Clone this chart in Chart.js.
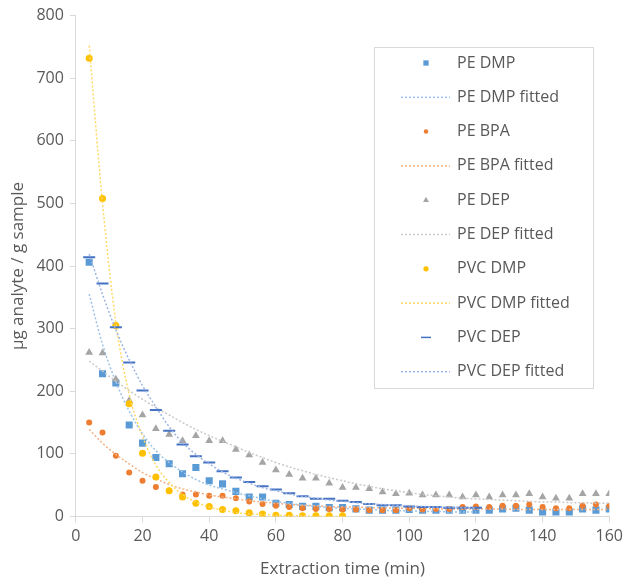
<!DOCTYPE html>
<html>
<head>
<meta charset="utf-8">
<script src="https://cdn.jsdelivr.net/npm/chart.js@4/dist/chart.umd.min.js"></script>
<style>
  html, body { margin: 0; padding: 0; background: #fff; }
  canvas { display: block; }
</style>
</head>
<body>
<canvas id="chart" width="627" height="584"></canvas>
<script>
// sampling times (min)
const times = [4, 8, 12, 16, 20, 24, 28, 32, 36, 40, 44, 48, 52, 56, 60, 64, 68, 72, 76, 80,
  84, 88, 92, 96, 100, 104, 108, 112, 116, 120, 124, 128, 132, 136, 140, 144, 148, 152, 156, 160];

// measured values (µg analyte / g sample)
const peDmp = [406, 228, 213, 146, 117, 94, 84, 68, 78, 57, 52, 40, 31, 31, 21, 19, 16, 16, 14, 14,
  12, 10, 10, 10, 11, 10, 10, 10, 10, 10, 10, 12, 13, 10, 7, 7, 7, 12, 10, 12];
const peBpa = [150, 134, 97, 70, 57, 47, 41, 35, 35, 33, 33, 29, 24, 20, 17, 15, 13, 12, 12, 11,
  11, 10, 10, 10, 13, 11, 12, 12, 15, 16, 15, 17, 17, 19, 15, 13, 13, 17, 19, 17];
const peDep = [262, 261, 219, 185, 162, 140, 131, 121, 129, 121, 121, 107, 98, 86, 74, 67, 61, 61, 53, 46,
  46, 44, 39, 36, 37, 34, 34, 34, 31, 34, 31, 34, 34, 36, 31, 29, 29, 36, 36, 36];
const pvcDmp = [732, 508, 305, 180, 101, 63, 41, 31, 21, 16, 11, 9, 6, 4, 2, 2, 1, 1, 1, 1];
const pvcDep = [414, 372, 302, 246, 201, 170, 137, 115, 96, 86, 72, 62, 55, 48, 43, 37, 32, 28, 28, 25,
  23, 20, 18, 18, 16, 15, 15, 14, 14, 14];

// fitted curves at the same times
const peDmpFit = [355, 275, 215, 168, 132, 105, 86, 71, 59, 50, 44, 38, 33, 28, 24, 21, 18, 16, 14, 13,
  12, 11, 10, 9, 9, 8, 8, 7, 7, 7];
const peBpaFit = [139, 117, 99, 84, 70, 60, 51, 44, 39, 34, 31, 28, 25, 23, 21, 19, 18, 17, 16, 15,
  15, 14, 14, 13, 13, 13, 12, 12, 12, 12, 12, 12, 11, 11, 11, 11, 11, 11, 11, 11];
const peDepFit = [248, 232, 216, 201, 187, 174, 162, 150, 139, 129, 120, 111, 102, 94, 86, 79, 73, 67, 62, 57,
  52, 48, 44, 41, 38, 35, 33, 31, 29, 28, 27, 26, 25, 24, 23, 23, 22, 22, 21, 21];
const pvcDmpFit = [752, 500, 310, 195, 128, 82, 54, 35, 23, 15, 10, 6, 4, 3, 2, 1, 1, 0, 0, 0];
const pvcDepFit = [419, 355, 298, 250, 209, 175, 143, 118, 99, 84, 71, 61, 53, 46, 41, 36, 32, 29, 26, 24,
  22, 20, 19, 18, 17, 16, 15, 15, 14, 14];

const TEXT = "#595959";
const AXIS = "#D9D9D9";
Chart.defaults.font.family = "'Open Sans', sans-serif";

const pts = (vals) => vals.map((v, i) => ({ x: times[i], y: v }));

function markers(label, vals, color, style, radius, extra = {}) {
  return Object.assign({
    label,
    data: pts(vals),
    showLine: false,
    pointStyle: style,
    pointRadius: radius,
    pointBackgroundColor: color,
    pointBorderColor: color,
    pointBorderWidth: 0,
    pointHoverRadius: radius,
  }, extra);
}

function fitted(label, vals, color) {
  return {
    label,
    data: pts(vals),
    showLine: true,
    borderColor: color,
    borderWidth: 1.5,
    borderDash: [2, 2],
    pointRadius: 0,
    pointHoverRadius: 0,
    cubicInterpolationMode: "monotone",
    fill: false,
  };
}

const datasets = [
  markers("PE DMP", peDmp, "#5B9BD5", "rect", 5),
  fitted("PE DMP fitted", peDmpFit, "#9DC3E6"),
  markers("PE BPA", peBpa, "#ED7D31", "circle", 3),
  fitted("PE BPA fitted", peBpaFit, "#F4B183"),
  markers("PE DEP", peDep, "#A5A5A5", "triangle", 4.5),
  fitted("PE DEP fitted", peDepFit, "#C9C9C9"),
  markers("PVC DMP", pvcDmp, "#FFC000", "circle", 3.5),
  fitted("PVC DMP fitted", pvcDmpFit, "#FFD966"),
  markers("PVC DEP", pvcDep, "#4472C4", "line", 6, { pointBorderWidth: 2 }),
  fitted("PVC DEP fitted", pvcDepFit, "#9DB5E3"),
];
// later series painted on top, like the spreadsheet
datasets.forEach((d, i) => { d.order = datasets.length - i; });

// boxed legend inside the plot area
const legendBox = {
  id: "legendBox",
  afterDraw(chart) {
    const ctx = chart.ctx;
    const left = 374, top = 47, w = 219, h = 341;
    ctx.save();
    ctx.fillStyle = "#fff";
    ctx.fillRect(left, top, w, h);
    ctx.strokeStyle = AXIS;
    ctx.lineWidth = 1;
    ctx.strokeRect(left + 0.5, top + 0.5, w, h);
    ctx.font = "16px 'Open Sans', sans-serif";
    ctx.textBaseline = "middle";
    chart.data.datasets.forEach((ds, i) => {
      const y = top + 16 + i * 34.3;
      if (ds.showLine) {
        ctx.strokeStyle = ds.borderColor;
        ctx.lineWidth = 1.5;
        ctx.setLineDash([2, 2]);
        ctx.beginPath();
        ctx.moveTo(401, y);
        ctx.lineTo(450, y);
        ctx.stroke();
        ctx.setLineDash([]);
      } else {
        ctx.fillStyle = ds.pointBackgroundColor;
        ctx.strokeStyle = ds.pointBorderColor;
        Chart.helpers.drawPoint(ctx, {
          pointStyle: ds.pointStyle,
          radius: ds.pointStyle === "line" ? 5 : ds.pointRadius * 0.75,
          rotation: 0,
          borderWidth: ds.pointBorderWidth,
        }, 426, y);
      }
      ctx.fillStyle = TEXT;
      ctx.fillText(ds.label, 457, y);
    });
    ctx.restore();
  },
};

new Chart(document.getElementById("chart"), {
  type: "scatter",
  data: { datasets },
  options: {
    responsive: false,
    animation: false,
    layout: { padding: { top: 6, right: 8, bottom: 1, left: 4 } },
    plugins: {
      legend: { display: false },
      tooltip: { enabled: false },
    },
    scales: {
      x: {
        type: "linear",
        min: 0,
        max: 160,
        ticks: { stepSize: 20, color: TEXT, font: { size: 16 }, padding: 4 },
        grid: { drawOnChartArea: false, color: AXIS, tickLength: 6 },
        border: { color: AXIS },
        title: { display: true, text: "Extraction time (min)", color: TEXT, font: { size: 17 }, padding: { top: 9 } },
      },
      y: {
        type: "linear",
        min: 0,
        max: 800,
        ticks: { stepSize: 100, color: TEXT, font: { size: 16 }, padding: 6 },
        grid: { drawOnChartArea: false, color: AXIS, tickLength: 6 },
        border: { color: AXIS },
        title: { display: true, text: "µg analyte / g sample", color: TEXT, font: { size: 17 }, padding: { bottom: 2 } },
      },
    },
  },
  plugins: [legendBox],
});
</script>
</body>
</html>
